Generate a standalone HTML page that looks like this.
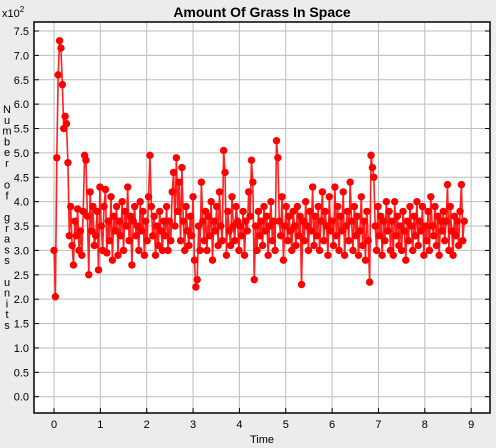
<!DOCTYPE html>
<html><head><meta charset="utf-8"><style>
html,body{margin:0;padding:0;background:#ececec;}
svg{display:block;font-family:"Liberation Sans",Arial,sans-serif;}
</style></head><body>
<svg id="chart" width="496" height="448">
<rect x="0" y="0" width="496" height="448" fill="#ececec"/>
<text x="262" y="17" text-anchor="middle" font-size="14" font-weight="bold" fill="#000">Amount Of Grass In Space</text>
<text x="2" y="17" font-size="11" fill="#000">x10<tspan dy="-5" font-size="8">2</tspan></text>
<text x="262" y="443" text-anchor="middle" font-size="11" fill="#000">Time</text>
<g id="grid"></g>
<g id="axes"></g>
<g id="series"></g>
<text font-size="11" fill="#000" text-anchor="middle" id="ylab"></text>
</svg>
<script>
const xTicks = [0,1,2,3,4,5,6,7,8,9];
const yTicks = [0.0,0.5,1.0,1.5,2.0,2.5,3.0,3.5,4.0,4.5,5.0,5.5,6.0,6.5,7.0,7.5];
const timeStep = 0.03;
const grassValues = [
3.0,2.05,4.9,6.6,7.3,7.15,6.4,5.5,5.75,5.6,
4.8,3.3,3.9,3.1,2.7,3.6,3.3,3.85,3.0,3.4,
2.9,3.8,4.95,4.85,3.7,2.5,4.2,3.4,3.9,3.1,
3.3,3.8,2.6,4.3,3.5,3.0,3.9,4.25,2.95,3.6,
3.2,4.1,2.8,3.7,3.4,3.9,2.9,3.6,3.3,4.0,
3.0,3.8,3.5,4.3,3.2,3.7,2.7,3.6,3.9,3.3,
3.5,3.0,4.0,3.4,3.8,2.9,3.6,3.2,4.1,4.95,
3.9,3.3,3.7,2.9,3.5,3.1,3.8,3.4,3.0,3.6,
3.3,3.9,3.0,3.6,3.2,4.2,4.6,3.5,4.9,3.8,
4.4,3.2,4.7,3.6,3.0,3.9,3.4,3.1,3.7,3.3,
4.1,2.8,2.25,2.4,3.5,3.0,4.4,3.6,3.2,3.8,
3.0,3.7,3.3,4.0,2.8,3.6,3.4,3.9,3.1,4.2,
3.5,3.2,5.05,4.6,2.9,3.8,3.4,3.1,4.1,3.5,
3.2,3.9,3.6,3.0,3.5,3.3,3.8,2.9,3.6,3.4,
4.2,3.7,4.85,4.4,2.4,3.5,3.0,3.8,3.3,3.6,
3.1,3.9,3.4,3.7,2.9,3.5,4.0,3.2,3.6,3.0,
5.25,4.9,3.6,3.3,4.1,2.8,3.5,3.9,3.2,3.7,
3.4,3.0,3.8,3.5,3.1,3.9,3.3,3.7,2.3,3.6,
3.2,4.0,3.5,3.0,3.8,3.4,4.3,3.1,3.7,3.3,
3.9,3.0,3.6,4.2,3.2,3.8,3.5,2.9,4.1,3.4,
3.6,3.1,4.3,3.3,3.9,3.0,3.7,3.4,4.2,2.9,
3.5,3.8,3.2,4.4,3.6,3.0,3.9,3.3,3.7,2.9,
3.4,4.1,3.1,3.6,2.8,3.8,3.2,2.35,4.95,4.7,
4.5,3.5,3.0,3.9,3.3,3.7,2.9,3.6,3.2,4.0,
3.4,3.8,3.0,3.6,2.9,4.0,3.3,3.7,3.1,3.5,
3.0,3.8,3.4,2.8,3.6,3.2,3.9,3.5,3.0,3.7,
3.3,4.0,3.1,3.6,3.4,3.9,2.9,3.5,3.2,3.8,
3.0,4.1,3.5,3.3,3.9,3.1,3.7,2.9,3.6,3.4,
3.8,3.2,3.6,4.35,3.0,3.9,3.4,2.9,3.7,3.3,
3.6,3.1,3.8,4.35,3.2,3.6
];
const NS='http://www.w3.org/2000/svg';
const L=34,R=490,T=22,B=413;
const xScale=v=>54+v*46.35;
const yScale=v=>396.7-v*48.76;
const grid=document.getElementById('grid'),axes=document.getElementById('axes'),ser=document.getElementById('series');
function mk(tag,attrs,parent){const e=document.createElementNS(NS,tag);for(const k in attrs)e.setAttribute(k,attrs[k]);parent.appendChild(e);return e;}
const pa=mk('rect',{x:L,y:T,width:R-L,height:B-T,fill:'#fff'},grid);


xTicks.forEach(v=>{const x=xScale(v);
 const g=mk('line',{x1:x,x2:x,y1:T,y2:B,stroke:'#bdbdbd','stroke-width':1},grid);
 
 
 mk('line',{x1:x,x2:x,y1:B,y2:B-5,stroke:'#000'},axes);
 const t=mk('text',{x:x,y:B+15,'text-anchor':'middle','font-size':11,fill:'#000'},axes);t.textContent=v;
 
 
});
yTicks.forEach(v=>{const y=yScale(v);
 const g=mk('line',{x1:L,x2:R,y1:y,y2:y,stroke:'#bdbdbd','stroke-width':1},grid);
 
 
 mk('line',{x1:L,x2:L+5,y1:y,y2:y,stroke:'#000'},axes);
 mk('line',{x1:R,x2:R-5,y1:y,y2:y,stroke:'#000'},axes);
 const t=mk('text',{x:29,y:y+4,'text-anchor':'end','font-size':11,fill:'#000'},axes);t.textContent=v.toFixed(1);
 
 
});
mk('rect',{x:L,y:T,width:R-L,height:B-T,fill:'none',stroke:'#000','stroke-width':1.5},axes);
const pts=grassValues.map((v,i)=>xScale(i*timeStep)+','+yScale(v)).join(' ');
const pl=mk('polyline',{points:pts,fill:'none',stroke:'#ff2020','stroke-width':1.6},ser);


grassValues.forEach((v,i)=>{const c=mk('circle',{cx:xScale(i*timeStep),cy:yScale(v),r:3.7,fill:'#ff0000'},ser);
 
 
});
const ylab=document.getElementById('ylab');
const word='Number of grass units';
let yy=113;
for(const ch of word){ if(ch!==' '){const ts=document.createElementNS(NS,'tspan');ts.setAttribute('x',7);ts.setAttribute('y',yy);ts.textContent=ch;ylab.appendChild(ts);} yy+=10.8; }
</script>
</body></html>
